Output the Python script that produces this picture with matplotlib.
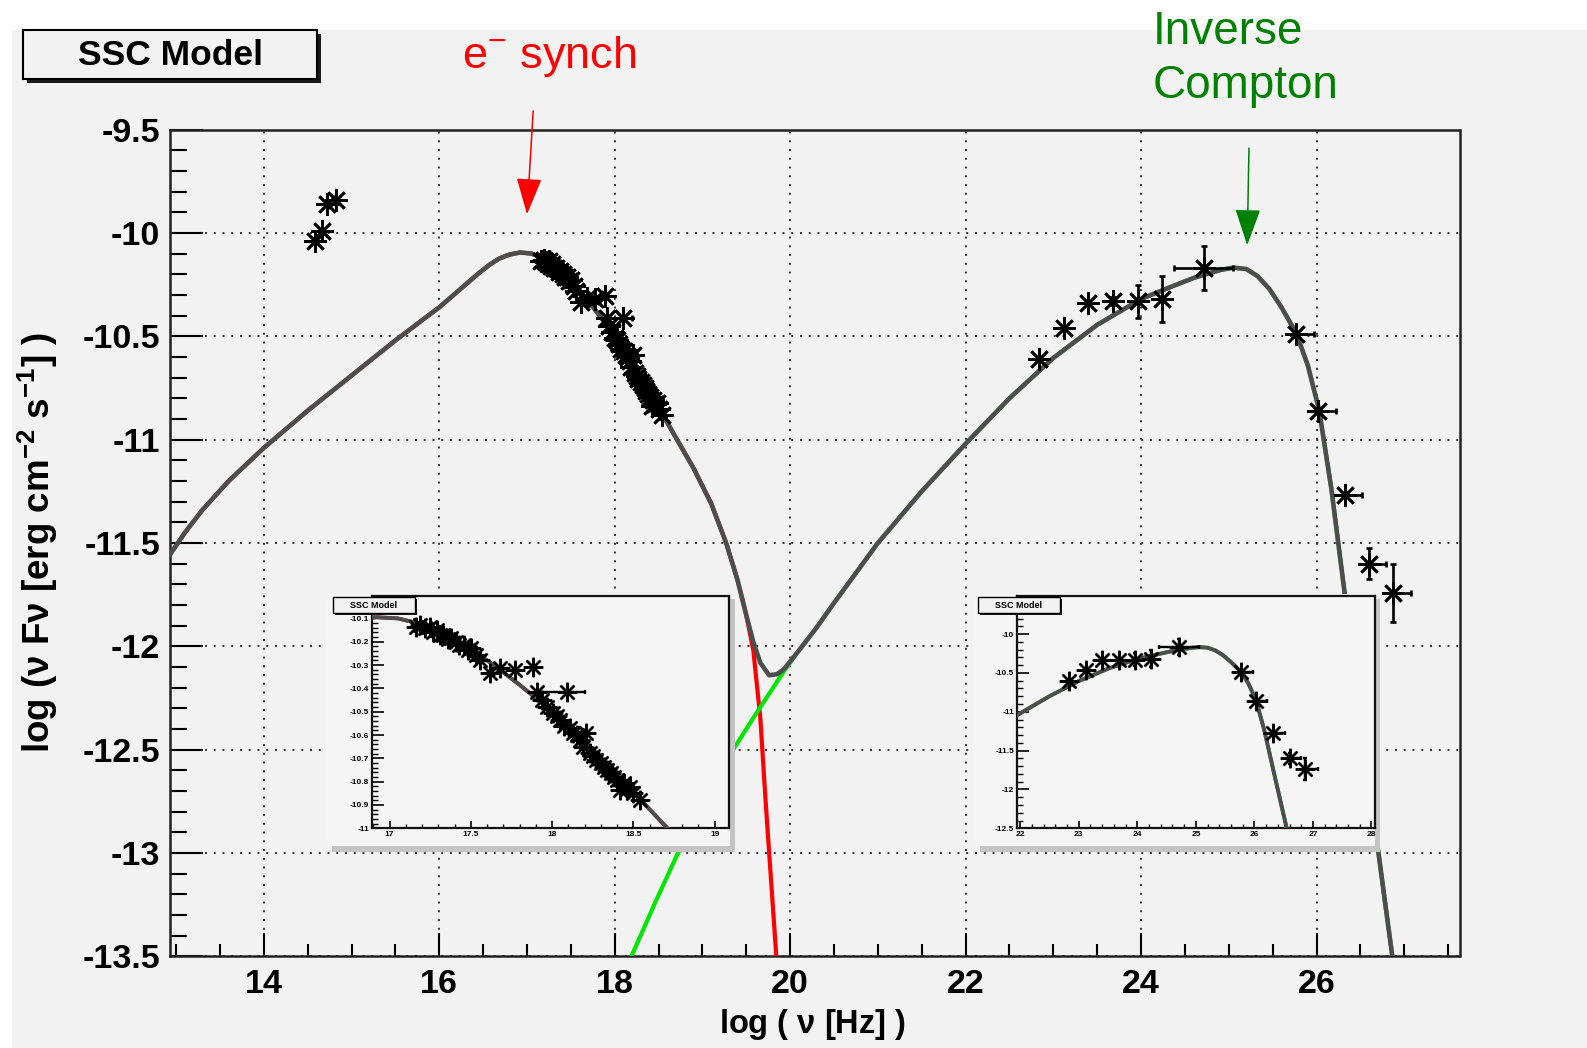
import numpy as np
import matplotlib
matplotlib.use('Agg')
import matplotlib.pyplot as plt
from matplotlib.patches import Rectangle
from matplotlib.ticker import MultipleLocator, FormatStrFormatter

plt.rcParams['font.family'] = ['Liberation Sans', 'DejaVu Sans']
plt.rcParams['font.weight'] = 'bold'
plt.rcParams['mathtext.default'] = 'regular'

W, H = 1587, 1048
BG = '#f2f2f2'

# synchrotron component, log(nu) vs log(nu F_nu)
sync_x = [12.93, 13.1, 13.3, 13.6, 14.0, 14.5, 15.0, 15.5, 16.0, 16.3, 16.45, 16.57,
          16.68, 16.8, 16.92, 17.05, 17.2, 17.35, 17.5, 17.65, 17.8, 17.95, 18.1, 18.3,
          18.5, 18.71, 18.9, 19.1, 19.27, 19.4, 19.5, 19.58, 19.66, 19.72, 19.78, 19.85]
sync_y = [-11.556, -11.45, -11.34, -11.2, -11.04, -10.86, -10.69, -10.52, -10.36, -10.25,
          -10.195, -10.155, -10.125, -10.105, -10.095, -10.10, -10.125, -10.17, -10.23,
          -10.305, -10.385, -10.47, -10.56, -10.70, -10.845, -11.0, -11.14, -11.31, -11.5,
          -11.68, -11.85, -12.02, -12.35, -12.75, -13.12, -13.55]

# inverse Compton component
ic_x = [18.19, 18.45, 18.71, 19.0, 19.32, 19.62, 19.93, 20.1, 20.3, 20.5, 20.75, 21.0,
        21.5, 22.0, 22.5, 23.0, 23.5, 24.0, 24.3, 24.6, 24.9, 25.05, 25.2, 25.33, 25.46,
        25.6, 25.77, 25.9, 26.03, 26.17, 26.32, 26.5, 26.7, 26.88]
ic_y = [-13.5, -13.25, -13.01, -12.77, -12.52, -12.32, -12.12, -12.02, -11.91, -11.79,
        -11.645, -11.50, -11.25, -11.02, -10.80, -10.605, -10.445, -10.32, -10.268,
        -10.218, -10.18, -10.168, -10.175, -10.21, -10.27, -10.36, -10.486, -10.64,
        -10.857, -11.24, -11.74, -12.33, -12.98, -13.55]

# summed model through the valley between the two humps
dip_x = [19.58, 19.66, 19.76, 19.85, 19.93]
dip_y = [-11.98, -12.08, -12.14, -12.135, -12.11]

total_x = [x for x in sync_x if x < 19.55] + dip_x + [x for x in ic_x if x > 19.95]
total_y = ([y for x, y in zip(sync_x, sync_y) if x < 19.55] + dip_y
           + [y for x, y in zip(ic_x, ic_y) if x > 19.95])

# optical / UV fluxes
opt_x = [14.58, 14.66, 14.72, 14.82]
opt_y = [-10.04, -9.99, -9.86, -9.84]

# X-ray spectrum
xray_x = [17.16, 17.19, 17.22, 17.25, 17.27, 17.29, 17.31, 17.33, 17.36, 17.38, 17.41,
          17.43, 17.455, 17.48, 17.50, 17.53, 17.557, 17.62, 17.68, 17.77, 17.885,
          17.906, 17.94, 17.967, 18.008, 18.03, 18.05, 18.07, 18.09, 18.11, 18.13, 18.15,
          18.17, 18.19, 18.21, 18.23, 18.25, 18.27, 18.30, 18.32, 18.34, 18.36, 18.38,
          18.40, 18.42, 18.44, 18.46, 18.48, 18.50, 18.54]
xray_y = [-10.135, -10.129, -10.14, -10.136, -10.16, -10.15, -10.17, -10.171, -10.19,
          -10.186, -10.20, -10.215, -10.214, -10.235, -10.229, -10.257, -10.279, -10.336,
          -10.314, -10.321, -10.307, -10.414, -10.45, -10.479, -10.507, -10.52, -10.536,
          -10.56, -10.414, -10.57, -10.593, -10.60, -10.621, -10.65, -10.593, -10.679,
          -10.69, -10.707, -10.72, -10.736, -10.75, -10.764, -10.78, -10.793, -10.836,
          -10.807, -10.83, -10.821, -10.85, -10.879]
xray_wide_bin = 18.09
xray_wide_err = (0.18, 0.11)

# gamma-ray spectrum
gam_x = [22.84, 23.12, 23.40, 23.68, 23.96, 24.24, 24.72, 25.77, 26.02, 26.32, 26.60, 26.87]
gam_y = [-10.61, -10.46, -10.34, -10.33, -10.33, -10.32, -10.17, -10.49, -10.86, -11.27,
         -11.60, -11.74]
gam_yerr = [0.0, 0.0, 0.0, 0.02, 0.08, 0.11, 0.105, 0.0, 0.0, 0.0, 0.075, 0.14]
gam_xlo = [0.0, 0.0, 0.0, 0.0, 0.0, 0.0, 0.35, 0.0, 0.0, 0.0, 0.0, 0.0]
gam_xhi = [0.0, 0.0, 0.0, 0.0, 0.0, 0.0, 0.33, 0.2, 0.2, 0.2, 0.19, 0.21]

STAR = (8, 2, 0)


def fig_rect(x0, y0, x1, y1):
    return [x0 / W, 1 - y1 / H, (x1 - x0) / W, (y1 - y0) / H]


def fig_xy(x, y):
    return x / W, 1 - y / H


def add_rect(fig, x0, y0, x1, y1, **kw):
    l, b, w, h = fig_rect(x0, y0, x1, y1)
    fig.add_artist(Rectangle((l, b), w, h, transform=fig.transFigure, **kw))


def pave(fig, x0, y0, x1, y1, text, size, off, lw):
    add_rect(fig, x0 + off, y0 + off, x1 + off, y1 + off, facecolor='#1a1a1a',
             edgecolor='none', zorder=5)
    add_rect(fig, x0, y0, x1, y1, facecolor=BG, edgecolor='black', lw=lw, zorder=5)
    fig.text(*fig_xy((x0 + x1) / 2, (y0 + y1) / 2 + 1), text, ha='center', va='center',
             fontsize=size, zorder=6)


def draw_model(ax, lw):
    ax.plot(sync_x, sync_y, color='#ff0000', lw=lw, zorder=3, solid_capstyle='butt')
    ax.plot(ic_x, ic_y, color='#00e600', lw=lw, zorder=3, solid_capstyle='butt')
    ax.plot(total_x, total_y, color='#4d4d4d', lw=lw * 1.1, zorder=4,
            solid_joinstyle='round')


def draw_points(ax, ms, mew, cap):
    xerr = np.zeros((2, len(xray_x)))
    i = xray_x.index(xray_wide_bin)
    xerr[0, i], xerr[1, i] = xray_wide_err
    kw = dict(fmt='none', ecolor='black', elinewidth=mew, capsize=cap, capthick=mew, zorder=5)
    ax.errorbar(xray_x, xray_y, xerr=xerr, **kw)
    ax.errorbar(gam_x, gam_y, xerr=[gam_xlo, gam_xhi], yerr=gam_yerr, **kw)
    for xs, ys in [(opt_x, opt_y), (xray_x, xray_y), (gam_x, gam_y)]:
        ax.plot(xs, ys, linestyle='none', marker=STAR, ms=ms, mew=mew, color='black',
                zorder=6)


fig = plt.figure(figsize=(W / 100, H / 100), dpi=100, facecolor='white')
add_rect(fig, 12, 30, W, H, facecolor=BG, edgecolor='none', zorder=-10)

ax = fig.add_axes(fig_rect(170, 129.5, 1459.5, 956.4))
ax.set_facecolor(BG)
ax.set_xlim(12.93, 27.63)
ax.set_ylim(-13.5, -9.5)
draw_model(ax, 3.0)
draw_points(ax, 16.5, 1.9, 2.5)

ax.xaxis.set_major_locator(MultipleLocator(2))
ax.xaxis.set_minor_locator(MultipleLocator(0.5))
ax.yaxis.set_major_locator(MultipleLocator(0.5))
ax.yaxis.set_minor_locator(MultipleLocator(0.1))
ax.xaxis.set_major_formatter(FormatStrFormatter('%d'))
ax.yaxis.set_major_formatter(FormatStrFormatter('%g'))
ax.tick_params(axis='y', which='major', direction='in', length=24, width=1.5,
               labelsize=24.5, pad=7)
ax.tick_params(axis='y', which='minor', direction='in', length=12, width=1.5)
ax.tick_params(axis='x', which='major', direction='in', length=16.5, width=1.5,
               labelsize=24.5, pad=9)
ax.tick_params(axis='x', which='minor', direction='in', length=8.5, width=1.5)
ax.grid(True, which='major', linestyle=(0, (1, 3.5)), linewidth=1.4, color='#333333')
ax.set_axisbelow(True)
for s in ax.spines.values():
    s.set_linewidth(1.8)
    s.set_color('#222222')

fig.text(*fig_xy(813, 1025), r'log ( $\nu$ [Hz] )', ha='center', va='center', fontsize=23.5)
fig.text(*fig_xy(38, 543), r'log ($\nu$ F$\nu$ [erg cm$^{-2}$ s$^{-1}$] )', rotation=90,
         ha='center', va='center', fontsize=26.5)

# annotations for the two humps
arrow = '-|>,head_length=23,head_width=8'
ax.annotate('', xy=(17.0, -9.91), xytext=(17.07, -9.41), annotation_clip=False,
            arrowprops=dict(arrowstyle=arrow, color='#ff0000', lw=1.1, mutation_scale=1,
                            shrinkA=0, shrinkB=0))
ax.annotate('', xy=(25.21, -10.06), xytext=(25.23, -9.59), annotation_clip=False,
            arrowprops=dict(arrowstyle=arrow, color='#008000', lw=1.1, mutation_scale=1,
                            shrinkA=0, shrinkB=0))
fig.text(*fig_xy(462, 68), r'e$^{-}$ synch', color='#ff0000', fontsize=32.5,
         weight='normal', va='baseline')
fig.text(*fig_xy(1153, 44), 'Inverse', color='#008000', fontsize=33,
         weight='normal', va='baseline')
fig.text(*fig_xy(1153, 98), 'Compton', color='#008000', fontsize=33,
         weight='normal', va='baseline')

pave(fig, 23, 30, 317, 79, 'SSC Model', 25.5, 4, 1.5)

# zoomed views of the X-ray and gamma-ray regions
insets = [
    dict(panel=(327, 594, 735, 852), axes=(371.7, 596, 729.3, 828.3),
         xlim=(16.89, 19.09), ylim=(-11.0, -10.004), xmaj=0.5, xmin=0.1,
         ymaj=0.1, ymin=0.02, label=(333, 597, 415, 613)),
    dict(panel=(975, 594, 1380, 852), axes=(1016.7, 596, 1375, 828.3),
         xlim=(21.94, 28.06), ylim=(-12.5, -9.51), xmaj=1, xmin=0.2,
         ymaj=0.5, ymin=0.1, label=(978, 597, 1060, 613)),
]
for ins in insets:
    x0, y0, x1, y1 = ins['panel']
    add_rect(fig, x0 + 5, y0 + 5, x1, y1, facecolor='#c4c4c4', edgecolor='none', zorder=1)
    add_rect(fig, x0, y0, x1 - 5, y1 - 6, facecolor='#f5f5f5', edgecolor='none', zorder=1)
    a = fig.add_axes(fig_rect(*ins['axes']))
    a.set_zorder(2)
    a.set_facecolor('#f5f5f5')
    a.set_xlim(*ins['xlim'])
    a.set_ylim(*ins['ylim'])
    draw_model(a, 2.6)
    draw_points(a, 14, 1.7, 1.5)
    a.xaxis.set_major_locator(MultipleLocator(ins['xmaj']))
    a.xaxis.set_minor_locator(MultipleLocator(ins['xmin']))
    a.yaxis.set_major_locator(MultipleLocator(ins['ymaj']))
    a.yaxis.set_minor_locator(MultipleLocator(ins['ymin']))
    a.xaxis.set_major_formatter(FormatStrFormatter('%g'))
    a.yaxis.set_major_formatter(FormatStrFormatter('%g'))
    a.tick_params(axis='y', which='major', direction='in', length=8.5, width=1.2,
                  labelsize=6, pad=2)
    a.tick_params(axis='y', which='minor', direction='in', length=4.5, width=1.0)
    a.tick_params(axis='x', which='major', direction='in', length=5, width=1.2,
                  labelsize=6, pad=2)
    a.tick_params(axis='x', which='minor', direction='in', length=3, width=1.0)
    for s in a.spines.values():
        s.set_linewidth(1.6)
        s.set_color('#111111')
    lx0, ly0, lx1, ly1 = ins['label']
    pave(fig, lx0, ly0, lx1, ly1, 'SSC Model', 6.5, 1.5, 1.0)

fig.savefig('out.png', dpi=100, facecolor=fig.get_facecolor())
